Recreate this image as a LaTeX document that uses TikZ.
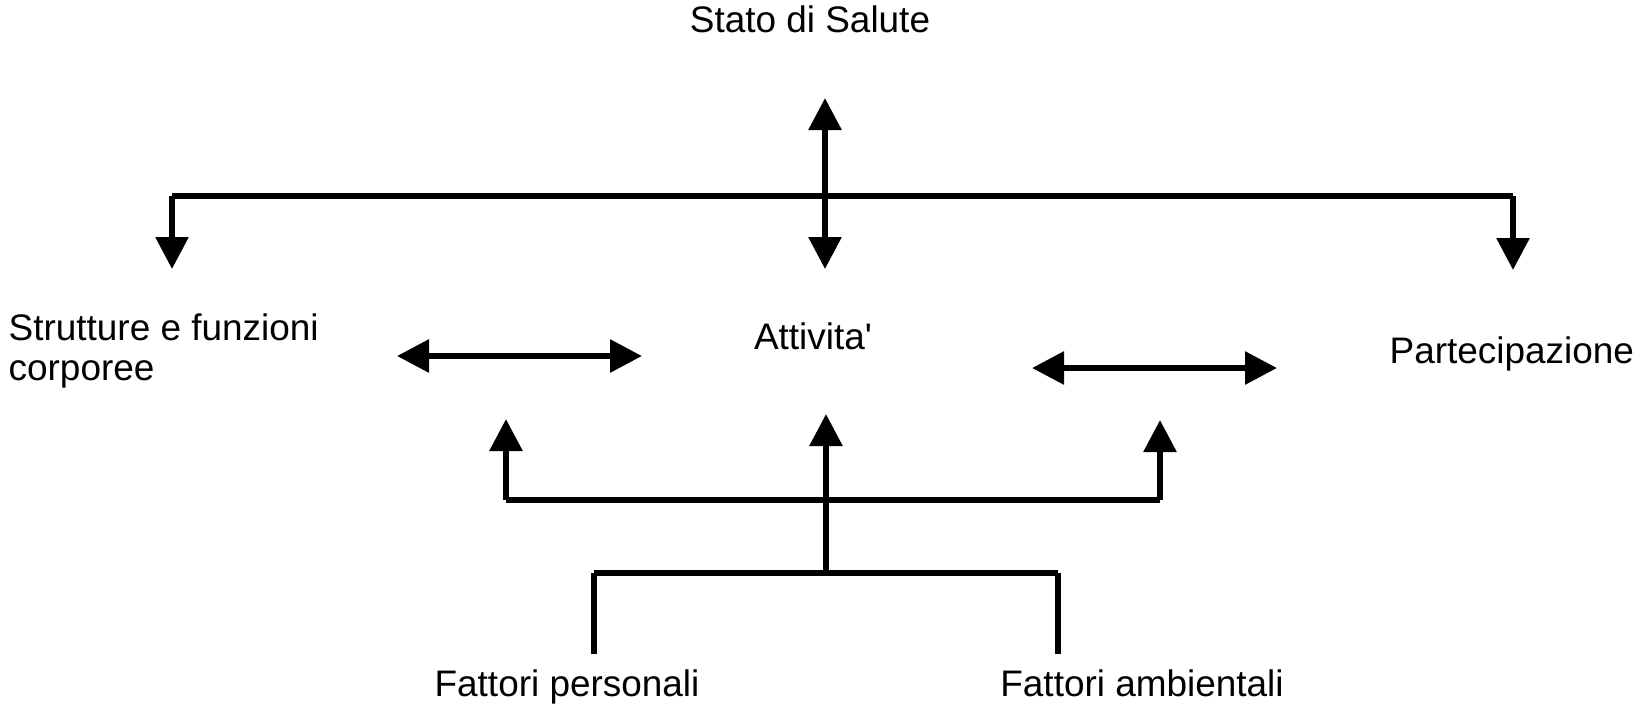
\documentclass[tikz,border=0pt]{standalone}
\usepackage{fontspec}
\setmainfont{Liberation Sans}
\usetikzlibrary{positioning,arrows.meta}

\begin{document}
\begin{tikzpicture}[x=0.01cm,y=-0.01cm,>={Triangle[length=9.1pt,width=9.1pt]},
  lbl/.style={inner sep=0pt,font=\fontsize{10.5}{11.4}\selectfont},
  conn/.style={line width=1.7pt}]
  \useasboundingbox (0,0) rectangle (1639,705);
  % testi
  \node[lbl] (stato) at (810,19) {Stato di Salute};
  \node[lbl,anchor=west,align=left] (strutt) at (8,351) {Strutture e funzioni\\corporee};
  \node[lbl] (attiv) at (813,336) {Attivita\textquotesingle};
  \node[lbl,anchor=west] (partec) at (1389,354) {Partecipazione};
  \node[lbl,anchor=base] (pers) at (567,696) {Fattori personali};
  \node[lbl,anchor=base] (amb) at (1142,696) {Fattori ambientali};
  % punti di raccordo
  \coordinate (su) at (825,98);
  \coordinate (sd) at (825,269);
  \coordinate (bl) at (172,196);
  \coordinate (br) at (1513,196);
  \coordinate (bld) at (172,269);
  \coordinate (brd) at (1513,270);
  \coordinate (al) at (397,356);
  \coordinate (ar) at (642,356);
  \coordinate (pl) at (1032,368);
  \coordinate (pr) at (1277,368);
  \coordinate (ml) at (506,500);
  \coordinate (mc) at (826,500);
  \coordinate (mr) at (1160,500);
  \coordinate (ul) at (506,419);
  \coordinate (uc) at (826,414);
  \coordinate (ur) at (1160,420);
  \coordinate (fl) at (594,573);
  \coordinate (fc) at (826,573);
  \coordinate (fr) at (1058,573);
  \coordinate (pt) at (594,654);
  \coordinate (at) at (1058,654);
  % connettori
  \draw[conn,<->] (su) -- (sd);
  \draw[conn] (bl) -- (br);
  \draw[conn,->] (bl) -- (bld);
  \draw[conn,->] (br) -- (brd);
  \draw[conn,<->] (al) -- (ar);
  \draw[conn,<->] (pl) -- (pr);
  \draw[conn] (ml) -- (mr);
  \draw[conn,->] (ml) -- (ul);
  \draw[conn,->] (mr) -- (ur);
  \draw[conn,->] (fc) -- (uc);
  \draw[conn] (fl) -- (fr);
  \draw[conn] (fl) -- (pt);
  \draw[conn] (fr) -- (at);
\end{tikzpicture}
\end{document}
